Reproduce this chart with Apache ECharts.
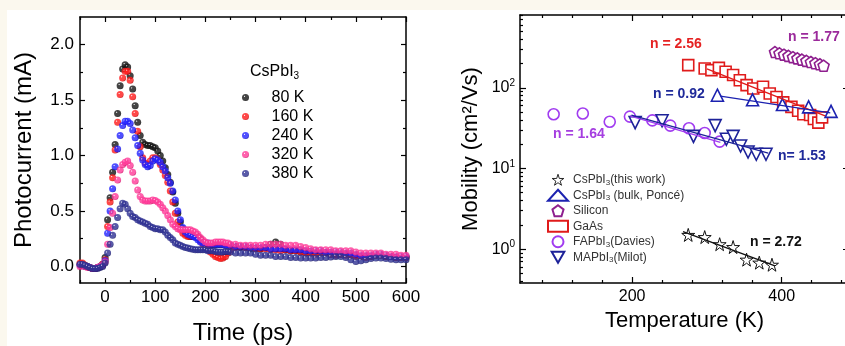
<!DOCTYPE html>
<html>
<head>
<meta charset="utf-8">
<script src="https://cdn.jsdelivr.net/npm/echarts@6/dist/echarts.min.js"></script>
<style>
  html, body { margin: 0; padding: 0; background: #fbf8ee; }
  #chart { width: 845px; height: 346px; }
</style>
</head>
<body>
<div id="chart"></div>
<script>
// ---- left panel: photocurrent traces ----
const timePs = [
  -50, -45, -40, -35, -30, -25, -20, -15, -10, -5,
  0, 5, 10, 15, 20, 25, 30, 35, 40, 45,
  50, 55, 60, 65, 70, 75, 80, 85, 90, 95,
  100, 105, 110, 115, 120, 125, 130, 135, 140, 145,
  150, 155, 160, 165, 170, 175, 180, 185, 190, 195,
  200, 205, 210, 215, 220, 225, 230, 235, 240, 245,
  250,
  260, 270, 280, 290, 300, 310, 320, 330, 340, 350,
  360, 370, 380, 390, 400, 410, 420, 430, 440, 450,
  460, 470, 480, 490, 500, 510, 520, 530, 540, 550,
  560, 570, 580, 590, 600
]
const pc80K = [
  0.02, 0.02, 0.01, 0.00, -0.01, -0.02, -0.02, -0.01, 0.00, 0.02,
  0.08, 0.42, 0.62, 0.85, 1.10, 1.38, 1.63, 1.78, 1.82, 1.80,
  1.72, 1.60, 1.45, 1.30, 1.18, 1.12, 1.10, 1.09, 1.09, 1.08,
  1.07, 1.04, 1.00, 0.95, 0.89, 0.83, 0.76, 0.67, 0.57, 0.48,
  0.40, 0.34, 0.30, 0.28, 0.27, 0.27, 0.28, 0.27, 0.25, 0.22,
  0.20, 0.19, 0.19, 0.20, 0.20, 0.20, 0.20, 0.20, 0.19, 0.19,
  0.18,
  0.18, 0.17, 0.17, 0.16, 0.16, 0.16, 0.17, 0.20, 0.22, 0.20,
  0.15, 0.14, 0.14, 0.13, 0.12, 0.12, 0.12, 0.12, 0.12, 0.11,
  0.11, 0.11, 0.11, 0.10, 0.10, 0.09, 0.09, 0.09, 0.10, 0.10,
  0.09, 0.09, 0.08, 0.08, 0.08
]
const pc160K = [
  0.03, 0.03, 0.01, 0.00, -0.01, -0.02, -0.02, -0.01, 0.00, 0.02,
  0.06, 0.36, 0.58, 0.80, 1.05, 1.30, 1.55, 1.70, 1.76, 1.76,
  1.68, 1.53, 1.38, 1.22, 1.08, 0.98, 0.93, 0.92, 0.95, 0.98,
  0.98, 0.96, 0.92, 0.87, 0.82, 0.76, 0.68, 0.58, 0.48, 0.40,
  0.34, 0.30, 0.28, 0.27, 0.27, 0.28, 0.28, 0.26, 0.23, 0.20,
  0.17, 0.15, 0.13, 0.11, 0.09, 0.08, 0.07, 0.075, 0.09, 0.12,
  0.15,
  0.17, 0.18, 0.17, 0.17, 0.16, 0.16, 0.16, 0.15, 0.15, 0.14,
  0.15, 0.14, 0.14, 0.13, 0.12, 0.12, 0.11, 0.12, 0.12, 0.11,
  0.10, 0.11, 0.10, 0.10, 0.09, 0.09, 0.08, 0.09, 0.10, 0.10,
  0.09, 0.09, 0.08, 0.08, 0.08
]
const pc240K = [
  0.01, 0.01, 0.00, 0.00, -0.01, -0.02, -0.02, -0.01, 0.00, 0.01,
  0.05, 0.30, 0.50, 0.70, 0.90, 1.06, 1.18, 1.27, 1.31, 1.31,
  1.29, 1.23, 1.16, 1.09, 1.02, 0.96, 0.92, 0.90, 0.91, 0.95,
  0.97, 0.96, 0.94, 0.90, 0.86, 0.80, 0.75, 0.68, 0.60, 0.50,
  0.42, 0.35, 0.31, 0.29, 0.28, 0.27, 0.26, 0.24, 0.22, 0.21,
  0.21, 0.21, 0.20, 0.20, 0.20, 0.20, 0.20, 0.20, 0.19, 0.19,
  0.19,
  0.18, 0.18, 0.18, 0.17, 0.17, 0.17, 0.17, 0.16, 0.16, 0.16,
  0.16, 0.15, 0.15, 0.15, 0.14, 0.14, 0.14, 0.14, 0.13, 0.13,
  0.13, 0.13, 0.12, 0.12, 0.11, 0.10, 0.10, 0.10, 0.11, 0.11,
  0.10, 0.09, 0.09, 0.09, 0.09
]
const pc320K = [
  0.00, 0.01, 0.00, -0.01, -0.01, -0.02, -0.02, -0.01, 0.00, 0.01,
  0.04, 0.20, 0.35, 0.48, 0.63, 0.78, 0.87, 0.92, 0.94, 0.95,
  0.91, 0.85, 0.77, 0.69, 0.63, 0.60, 0.59, 0.59, 0.59, 0.60,
  0.595, 0.58, 0.56, 0.53, 0.50, 0.46, 0.42, 0.38, 0.36, 0.34,
  0.33, 0.33, 0.33, 0.33, 0.33, 0.32, 0.31, 0.29, 0.26, 0.24,
  0.22, 0.21, 0.21, 0.21, 0.22, 0.22, 0.22, 0.22, 0.21, 0.21,
  0.20,
  0.20, 0.19, 0.19, 0.19, 0.19, 0.19, 0.20, 0.20, 0.20, 0.20,
  0.19, 0.19, 0.19, 0.18, 0.17, 0.16, 0.15, 0.15, 0.15, 0.15,
  0.14, 0.14, 0.14, 0.14, 0.13, 0.12, 0.12, 0.12, 0.12, 0.12,
  0.11, 0.11, 0.11, 0.10, 0.10
]
const pc380K = [
  0.02, 0.02, 0.01, 0.00, -0.01, -0.02, -0.02, -0.02, -0.01, 0.00,
  0.03, 0.12, 0.20, 0.28, 0.36, 0.44, 0.52, 0.57, 0.56, 0.52,
  0.48, 0.45, 0.44, 0.42, 0.41, 0.40, 0.39, 0.38, 0.36, 0.35,
  0.34, 0.34, 0.33, 0.33, 0.31, 0.28, 0.26, 0.24, 0.21, 0.20,
  0.19, 0.18, 0.17, 0.165, 0.16, 0.155, 0.15, 0.15, 0.15, 0.15,
  0.15, 0.14, 0.14, 0.14, 0.135, 0.13, 0.13, 0.13, 0.135, 0.135,
  0.13,
  0.12, 0.12, 0.12, 0.12, 0.11, 0.10, 0.10, 0.10, 0.09, 0.09,
  0.09, 0.08, 0.08, 0.075, 0.075, 0.075, 0.075, 0.08, 0.08, 0.085,
  0.09, 0.09, 0.08, 0.06, 0.045, 0.05, 0.06, 0.07, 0.075, 0.075,
  0.07, 0.065, 0.06, 0.06, 0.06
]
const tempNames = ['80 K', '160 K', '240 K', '320 K', '380 K']
const tempColors = [
  ['#151515', '#000000'],
  ['#ff1a1a', '#c80000'],
  ['#2323ff', '#0000c0'],
  ['#ff3a98', '#d8136c'],
  ['#2f3193', '#1a1a6a'],
]
const timeMajor = [0, 100, 200, 300, 400, 500, 600]
const timeMinor = [-50, 50, 150, 250, 350, 450, 550]
const pcMajor = [0, 0.5, 1.0, 1.5, 2.0]
const pcMinor = [0.25, 0.75, 1.25, 1.75]

// ---- right panel: mobility vs temperature ----
const starT = [275, 297, 317, 335, 353, 370, 387]
const starMu = [1.50, 1.41, 1.15, 1.06, 0.74, 0.68, 0.64]
const starFitT = [268, 391]
const starFitMu = [1.65, 0.62]
const ponceT = [314, 361, 401, 436, 466]
const ponceMu = [81, 71, 62, 58, 51]
const ponceFitT = [318, 465]
const ponceFitMu = [79, 49]
const siT = [391, 397, 403, 409, 415, 421, 427, 433, 439, 445, 451, 456]
const siMu = [278, 268, 258, 249, 240, 232, 224, 216, 209, 202, 196, 188]
const gaasT = [275, 297, 306, 316, 325, 335, 344, 353, 362, 375, 384, 393, 402, 413, 422, 429, 438, 443, 449, 454]
const gaasMu = [191, 174, 166, 177, 158, 144, 124, 108, 98, 103, 85, 77, 66, 58, 52, 47, 46, 41, 37, 43]
const gaasFitT = [300, 458]
const gaasFitMu = [172, 45]
const faT = [95, 134, 170, 197, 227, 251, 276, 297, 317]
const faMu = [47, 48, 38, 44, 39.5, 34, 31.5, 27.5, 21.5]
const faFitT = [197, 318]
const faFitMu = [45, 21]
const maT = [204, 240, 282, 311, 326, 335, 345, 355, 366, 379]
const maMu = [37, 39, 25, 34, 23, 25, 19, 16, 15, 15]
const maFitT = [199, 382]
const maFitMu = [46, 15.5]
const tempMajor = [200, 400]
const tempMinor = [80, 120, 160, 240, 280, 320, 360, 440, 480]
const muMajor = [1, 10, 100]
const muMinor = [0.4, 0.5, 0.6, 0.7, 0.8, 0.9, 2, 3, 4, 5, 6, 7, 8, 9,
  20, 30, 40, 50, 60, 70, 80, 90, 200, 300, 400, 500, 600, 700, 800]

const FONT = '"Liberation Sans", Arial, Helvetica, sans-serif'
const STAR = 'path://M50,0 L61,35 L98,35 L68,57 L79,91 L50,70 L21,91 L32,57 L2,35 L39,35 Z'
const PENTA = 'path://M50,0 L98,36 L80,95 L20,95 L2,36 Z'
const DOWN_TRI = 'path://M0,0 L100,0 L50,87 Z'

const zip = (xs, ys) => xs.map((x, i) => [x, ys[i]])

const sphere = (c) => ({
  type: 'radial', x: 0.36, y: 0.34, r: 0.66,
  colorStops: [
    { offset: 0, color: '#ffffff' },
    { offset: 0.22, color: c[0] },
    { offset: 0.8, color: c[0] },
    { offset: 1, color: c[1] },
  ],
})

const axisLine = { show: true, onZero: false, lineStyle: { color: '#000', width: 1.5 } }
const noLine = { show: false, onZero: false }
const tickLine = { color: '#000', width: 1.2 }

// one axis = one set of inward ticks; the labelled one also draws the line
function makeAxis(base, ticks, len, withLine, label) {
  return Object.assign({
    type: 'value',
    axisLine: withLine ? axisLine : noLine,
    axisTick: { show: true, inside: true, length: len, customValues: ticks, lineStyle: tickLine },
    axisLabel: label ? Object.assign({ customValues: ticks }, label) : { show: false },
    splitLine: { show: false },
    silent: true,
  }, base)
}

const leftX = { gridIndex: 0, min: -50, max: 600 }
const leftY = { gridIndex: 0, min: -0.15, max: 2.25 }
const rightX = { gridIndex: 1, min: 50, max: 490 }
const rightY = { gridIndex: 1, type: 'log', logBase: 10, min: 0.38, max: 800 }

const xAxes = [
  makeAxis(Object.assign({ position: 'bottom', name: 'Time (ps)', nameLocation: 'middle', nameGap: 38,
    nameTextStyle: { fontSize: 24, color: '#000', fontFamily: FONT } }, leftX),
    timeMajor, 5, true, { fontSize: 17, color: '#000', margin: 6, fontFamily: FONT }),
  makeAxis(Object.assign({ position: 'bottom' }, leftX), timeMinor, 3, false),
  makeAxis(Object.assign({ position: 'top' }, leftX), timeMajor, 5, true),
  makeAxis(Object.assign({ position: 'top' }, leftX), timeMinor, 3, false),
  makeAxis(Object.assign({ position: 'bottom', name: 'Temperature (K)', nameLocation: 'middle', nameGap: 26,
    nameTextStyle: { fontSize: 22, color: '#000', fontFamily: FONT } }, rightX),
    tempMajor, 6, true, { fontSize: 16, color: '#000', margin: 6, fontFamily: FONT }),
  makeAxis(Object.assign({ position: 'bottom' }, rightX), tempMinor, 3, false),
  makeAxis(Object.assign({ position: 'top' }, rightX), tempMajor, 6, true),
  makeAxis(Object.assign({ position: 'top' }, rightX), tempMinor, 3, false),
]

const yAxes = [
  makeAxis(Object.assign({ position: 'left', name: 'Photocurrent (mA)', nameLocation: 'middle', nameGap: 44,
    nameTextStyle: { fontSize: 24, color: '#000', fontFamily: FONT } }, leftY),
    pcMajor, 5, true, { fontSize: 17, color: '#000', margin: 6, fontFamily: FONT, formatter: (v) => v.toFixed(1) }),
  makeAxis(Object.assign({ position: 'left' }, leftY), pcMinor, 3, false),
  makeAxis(Object.assign({ position: 'right' }, leftY), pcMajor, 5, true),
  makeAxis(Object.assign({ position: 'right' }, leftY), pcMinor, 3, false),
  makeAxis(Object.assign({ position: 'left', name: 'Mobility (cm²/Vs)', nameLocation: 'middle', nameGap: 38,
    nameTextStyle: { fontSize: 22, color: '#000', fontFamily: FONT } }, rightY),
    muMajor, 6, true, {
      margin: 5, fontFamily: FONT,
      formatter: (v) => '{b|10}{s|' + Math.round(Math.log10(v)) + '}',
      rich: {
        b: { fontSize: 16, color: '#000', fontFamily: FONT },
        s: { fontSize: 10, color: '#000', fontFamily: FONT, padding: [0, 0, 9, 0] },
      },
    }),
  makeAxis(Object.assign({ position: 'left' }, rightY), muMinor, 3, false),
  makeAxis(Object.assign({ position: 'right' }, rightY), muMajor, 6, true),
  makeAxis(Object.assign({ position: 'right' }, rightY), muMinor, 3, false),
]

const pcSeries = [pc80K, pc160K, pc240K, pc320K, pc380K].map((vals, i) => ({
  type: 'scatter',
  name: tempNames[i],
  xAxisIndex: 0,
  yAxisIndex: 0,
  symbol: 'circle',
  symbolSize: 7,
  itemStyle: { color: sphere(tempColors[i]) },
  data: zip(timePs, vals),
}))

const hollow = (name, sym, color, xs, ys, size, bw) => ({
  type: 'scatter',
  name,
  xAxisIndex: 4,
  yAxisIndex: 4,
  symbol: sym,
  symbolSize: size,
  itemStyle: { color: '#ffffff', borderColor: color, borderWidth: bw || 1.6, opacity: 1 },
  data: zip(xs, ys),
})

const fit = (color, xs, ys) => ({
  type: 'line',
  xAxisIndex: 4,
  yAxisIndex: 4,
  symbol: 'none',
  z: 5,
  lineStyle: { color, width: 1.3 },
  data: zip(xs, ys),
})

const C_BLK = '#111111'
const C_PONCE = '#1c22b0'
const C_SI = '#8e1f8e'
const C_GAAS = '#e01b1b'
const C_FA = '#a13cf0'
const C_MA = '#1d2299'

const muSeries = [
  hollow('GaAs', 'rect', C_GAAS, gaasT, gaasMu, 11),
  hollow('Silicon', PENTA, C_SI, siT, siMu, 11),
  hollow('FAPbI3(Davies)', 'circle', C_FA, faT, faMu, 11),
  hollow('MAPbI3(Milot)', DOWN_TRI, C_MA, maT, maMu, 12),
  hollow('CsPbI3 (bulk, Poncé)', 'triangle', C_PONCE, ponceT, ponceMu, 12),
  hollow('CsPbI3(this work)', STAR, C_BLK, starT, starMu, 13, 1),
  fit(C_GAAS, gaasFitT, gaasFitMu),
  fit(C_FA, faFitT, faFitMu),
  fit(C_MA, maFitT, maFitMu),
  fit(C_PONCE, ponceFitT, ponceFitMu),
  fit(C_BLK, starFitT, starFitMu),
]

const nLabel = (text, x, y, color) => ({
  type: 'text', left: x, top: y, silent: true,
  style: { text, fill: color, font: 'bold 14px ' + FONT },
})

const chart = echarts.init(document.getElementById('chart'), null, { renderer: 'canvas' })
chart.setOption({
  animation: false,
  backgroundColor: '#fbf8ee',
  textStyle: { fontFamily: FONT },
  grid: [
    { left: 80, top: 17, width: 326, height: 266, outerBoundsMode: 'none', containLabel: false },
    { left: 520, top: 15, width: 329, height: 268, outerBoundsMode: 'none', containLabel: false },
  ],
  xAxis: xAxes,
  yAxis: yAxes,
  title: {
    text: '{a|CsPbI}{b|3}',
    left: 250, top: 63, padding: 0,
    textStyle: {
      fontWeight: 'normal',
      rich: {
        a: { fontSize: 16, color: '#000', fontWeight: 'normal', fontFamily: FONT },
        b: { fontSize: 10, color: '#000', fontWeight: 'normal', fontFamily: FONT, padding: [8, 0, 0, 0] },
      },
    },
  },
  legend: [
    {
      data: tempNames,
      orient: 'vertical',
      left: 237, top: 83,
      itemWidth: 42, itemHeight: 7, itemGap: 0,
      selectedMode: false,
      textStyle: { fontSize: 16, lineHeight: 19, color: '#000', fontFamily: FONT },
    },
    {
      data: [
        { name: 'CsPbI3(this work)', itemStyle: { borderWidth: 0.9 } },
        'CsPbI3 (bulk, Poncé)', 'Silicon', 'GaAs', 'FAPbI3(Davies)', 'MAPbI3(Milot)',
      ],
      orient: 'vertical',
      left: 542, top: 167,
      itemWidth: 20, itemHeight: 11, itemGap: 0,
      selectedMode: false,
      formatter: (name) => '{t|' + name.replace('I3', 'I}{s|3}{t|') + '}',
      textStyle: {
        lineHeight: 15.5,
        rich: {
          t: { fontSize: 12, color: '#333', fontFamily: FONT },
          s: { fontSize: 8, color: '#333', fontFamily: FONT, padding: [6, 0, 0, 0] },
        },
      },
    },
  ],
  graphic: [
    { type: 'rect', z: -10, silent: true, shape: { x: 7, y: 10, width: 838, height: 336 }, style: { fill: '#ffffff' } },
    nLabel('n = 2.56', 650, 37, '#e52222'),
    nLabel('n = 1.77', 788, 30, '#9b2a9b'),
    nLabel('n = 0.92', 653, 87, '#1f2a9a'),
    nLabel('n = 1.64', 553, 127, '#a53ee0'),
    nLabel('n= 1.53', 778, 149, '#1f2a9a'),
    nLabel('n = 2.72', 750, 235, '#111111'),
  ],
  series: pcSeries.concat(muSeries),
})
</script>
</body>
</html>
